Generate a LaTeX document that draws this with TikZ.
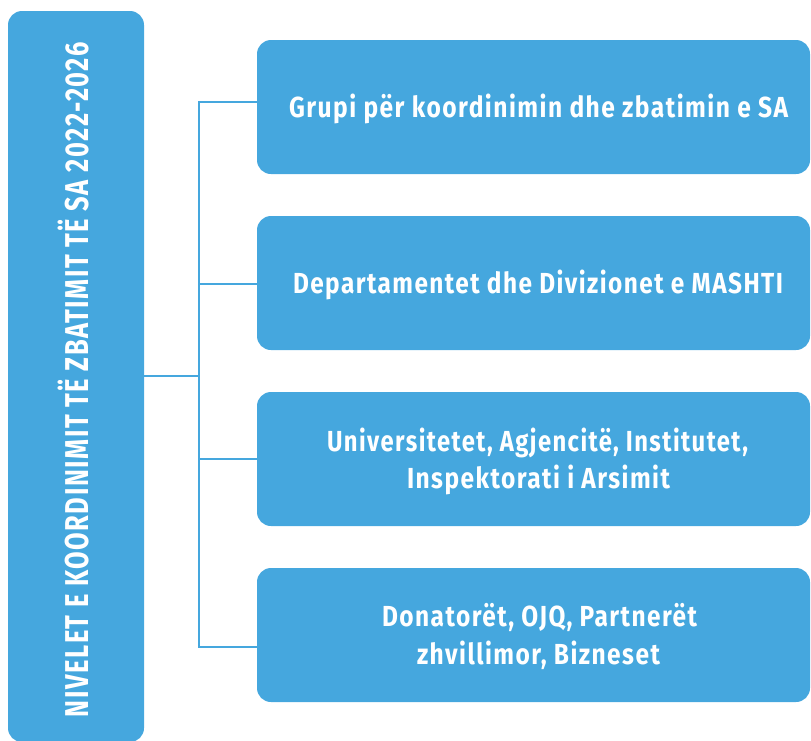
\documentclass[tikz,border=0pt]{standalone}
\usepackage{fontspec}
\setmainfont{Fira Sans}
\newfontfamily\spacedfont{Fira Sans}[LetterSpace=6]
\usepackage{graphicx}
\usetikzlibrary{calc}
\definecolor{boxblue}{RGB}{69,167,222}
\newlength\mylen
\newcommand\fitline[2]{\settowidth\mylen{#2}\pgfmathsetmacro\fsx{#1/\mylen}\scalebox{\fsx}[1]{#2}}
\begin{document}
\begin{tikzpicture}[x=1pt,y=-1pt,
  box/.style={fill=boxblue, rounded corners=14pt, draw=none, inner sep=0pt},
  link/.style={draw=boxblue, line width=2pt},
  lbl/.style={text=white, inner sep=0pt, anchor=base, font=\fontsize{29}{29}\spacedfont\bfseries},
  vlbl/.style={text=white, inner sep=0pt, anchor=base, rotate=90, font=\fontsize{33}{33}\spacedfont\bfseries}]
\useasboundingbox (0,0) rectangle (811,740);
% left box
\node[box, minimum width=136pt, minimum height=731pt] (L) at (76,376.5) {};
\node[vlbl] (vt) at ($(L.center)+(12,3)$) {\fitline{675}{NIVELET E KOORDINIMIT TË ZBATIMIT TË SA 2022-2026}};
% right boxes
\node[box, minimum width=553pt, minimum height=134pt] (b1) at (533.5,107) {};
\node[box, minimum width=553pt, minimum height=134pt] (b2) at (533.5,283) {};
\node[box, minimum width=553pt, minimum height=134pt] (b3) at (533.5,459) {};
\node[box, minimum width=553pt, minimum height=134pt] (b4) at (533.5,635) {};
\node[lbl] (t1) at ($(b1.center)+(5,10)$) {\fitline{499}{Grupi për koordinimin dhe zbatimin e SA}};
\node[lbl] (t2) at ($(b2.center)+(4.5,10)$) {\fitline{490}{Departamentet dhe Divizionet e MASHTI}};
\node[lbl] (t3a) at ($(b3.center)+(4,-8)$) {\fitline{421}{Universitetet, Agjencitë, Institutet,}};
\node[lbl] (t3b) at ($(b3.center)+(5,29)$) {\fitline{263}{Inspektorati i Arsimit}};
\node[lbl] (t4a) at ($(b4.center)+(6,-9)$) {\fitline{315}{Donatorët, OJQ, Partnerët}};
\node[lbl] (t4b) at ($(b4.center)+(5,29)$) {\fitline{243}{zhvillimor, Bizneset}};
% connectors
\coordinate (j0) at (198.5,376);
\coordinate (j1) at (198.5,102);
\coordinate (j2) at (198.5,284);
\coordinate (j3) at (198.5,459);
\coordinate (j4) at (198.5,647);
\draw[link] (L.east |- j0) -- (j0);
\draw[link] (b1.west |- j1) -- (j1) -- (j4) -- (b4.west |- j4);
\draw[link] (j2) -- (b2.west |- j2);
\draw[link] (j3) -- (b3.west |- j3);
\end{tikzpicture}
\end{document}
